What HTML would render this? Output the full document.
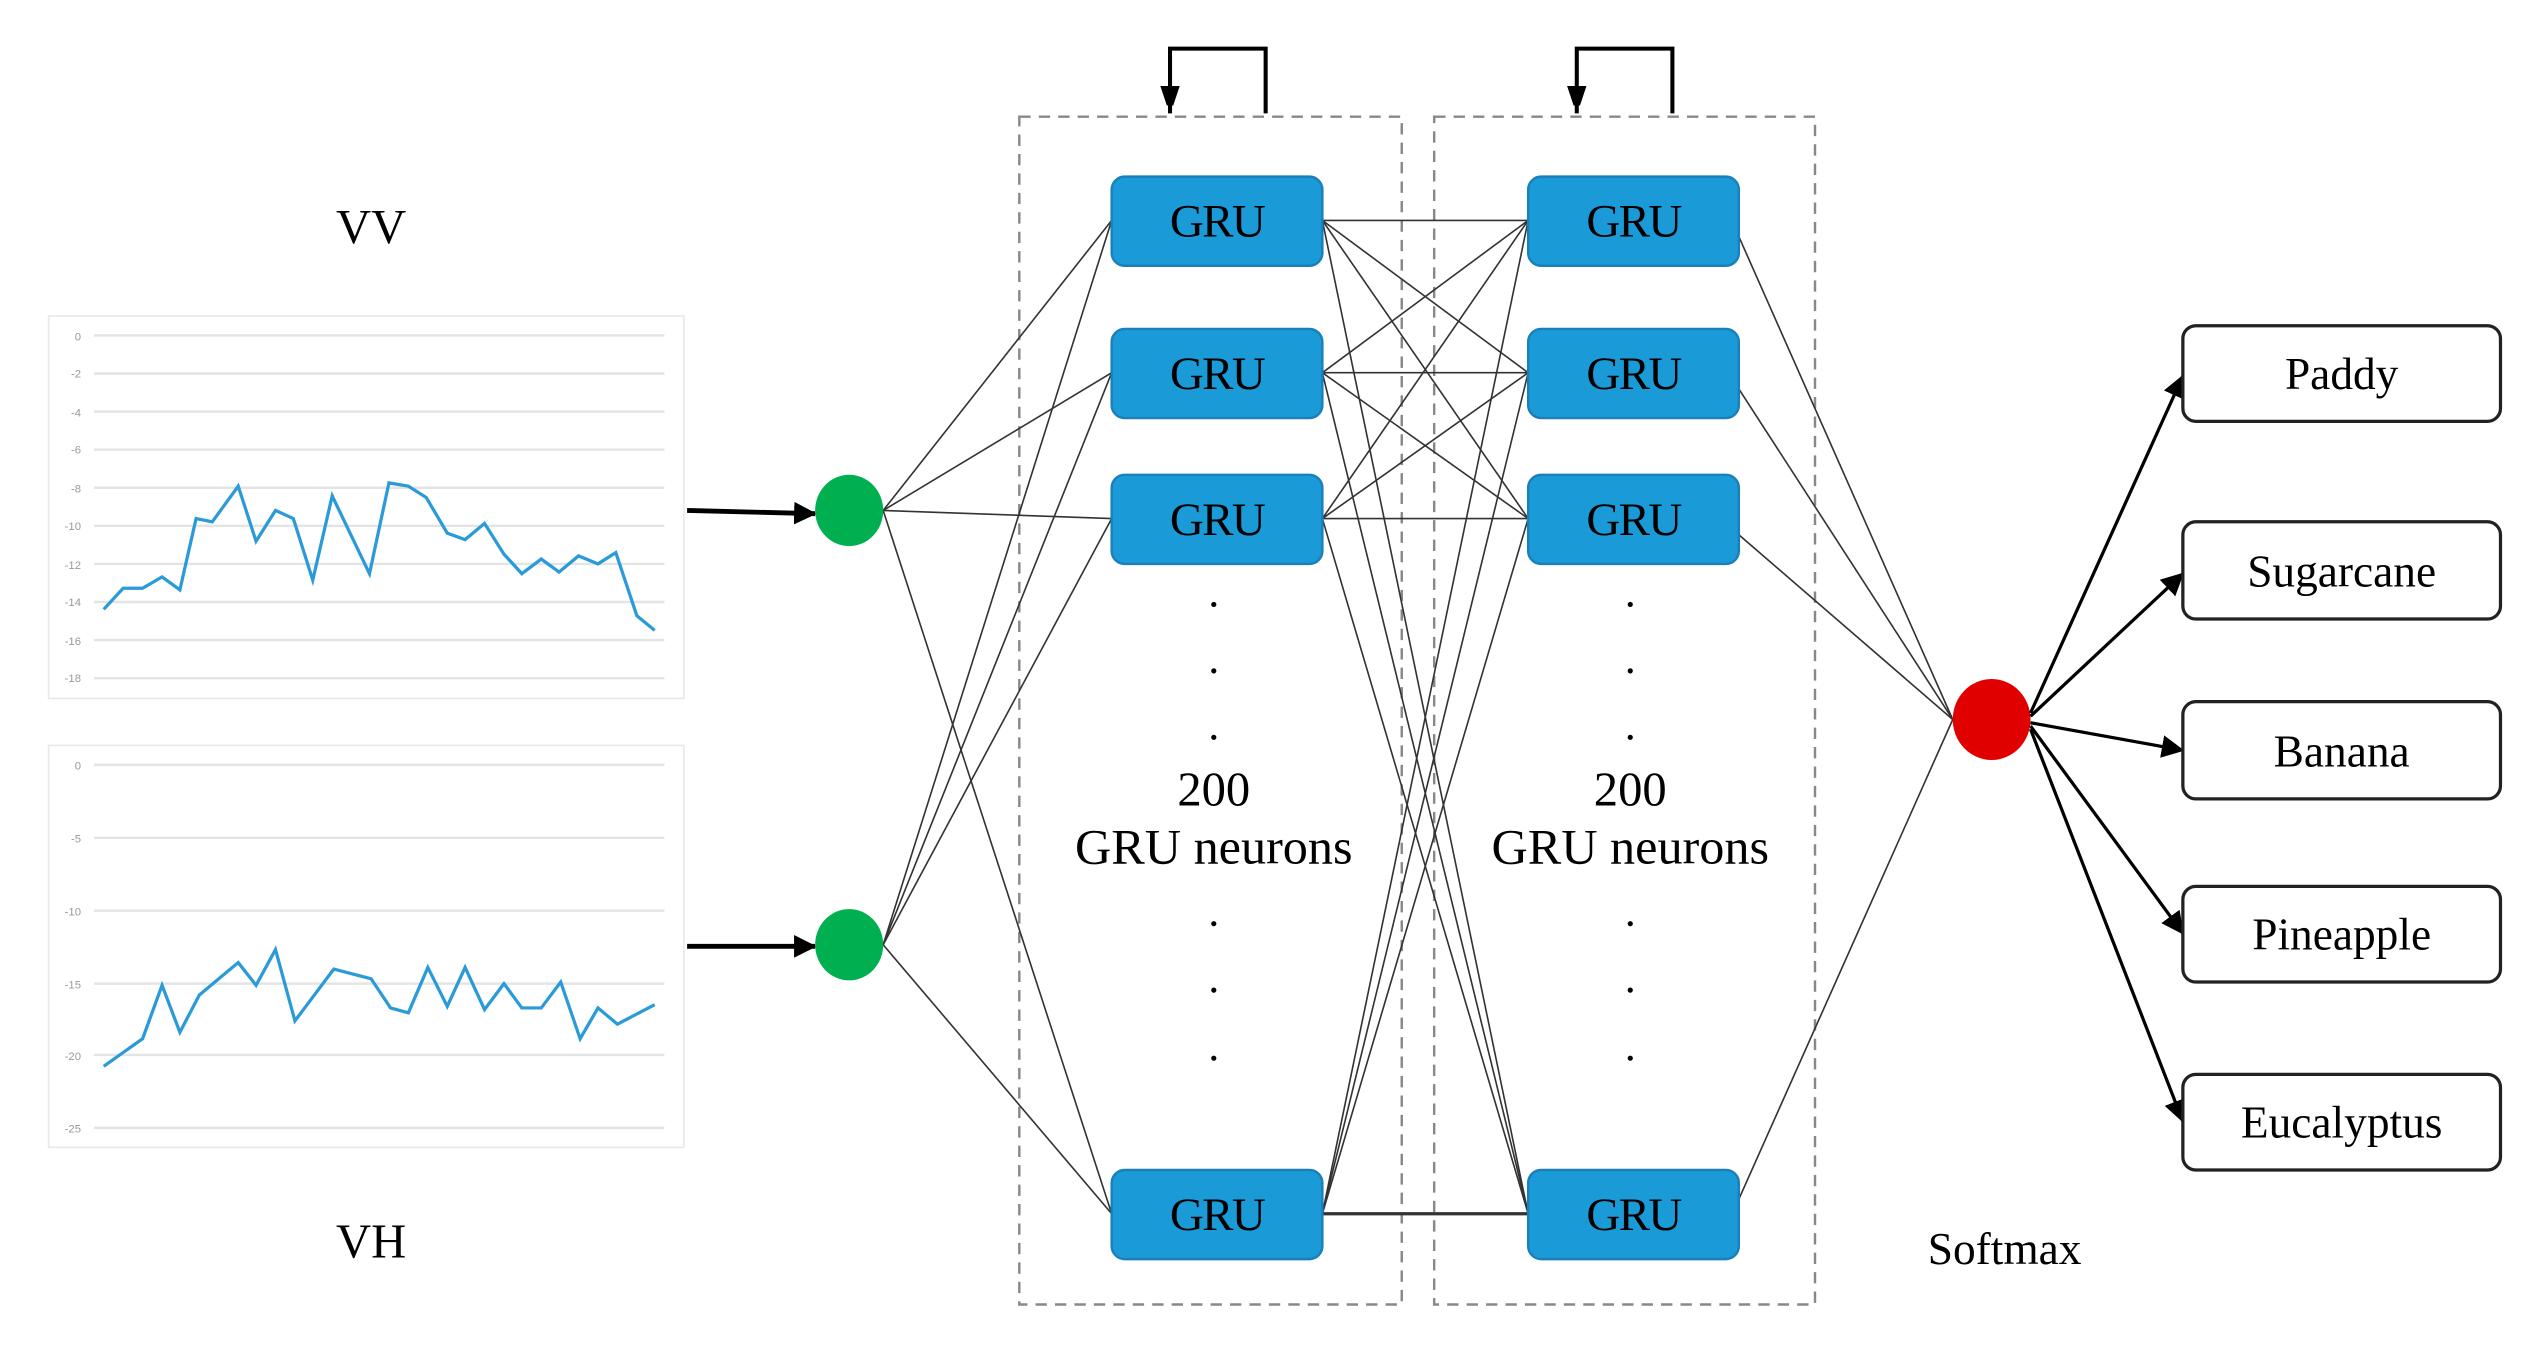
<!DOCTYPE html>
<html><head><meta charset="utf-8"><style>
html,body{margin:0;padding:0;background:#fff;}
svg{display:block;}
</style></head><body>
<svg width="2541" height="1345" viewBox="0 0 1568 830" preserveAspectRatio="none" xmlns="http://www.w3.org/2000/svg" font-family="Liberation Serif, serif">
<defs>
<marker id="ah" markerWidth="12" markerHeight="18" refX="17" refY="6" orient="auto" markerUnits="userSpaceOnUse"><path d="M0,0 L18,6 L0,12 Z" fill="#000"/></marker>
<marker id="ah2" markerWidth="14" markerHeight="14" refX="13" refY="7" orient="auto" markerUnits="userSpaceOnUse"><path d="M0,0 L14,7 L0,14 Z" fill="#000"/></marker>
</defs>

<text x="229" y="150" font-size="30" text-anchor="middle">VV</text>
<text x="229" y="776" font-size="30" text-anchor="middle">VH</text>

<rect x="30" y="195" width="392" height="236" fill="#fff" stroke="#e8e8e8" stroke-width="1"/>
<g stroke="#e4e4e4" stroke-width="1.5">
<line x1="58" y1="207" x2="410" y2="207"/><line x1="58" y1="230.5" x2="410" y2="230.5"/><line x1="58" y1="254" x2="410" y2="254"/><line x1="58" y1="277.5" x2="410" y2="277.5"/><line x1="58" y1="301" x2="410" y2="301"/><line x1="58" y1="324.5" x2="410" y2="324.5"/><line x1="58" y1="348" x2="410" y2="348"/><line x1="58" y1="371.5" x2="410" y2="371.5"/><line x1="58" y1="395" x2="410" y2="395"/><line x1="58" y1="418.5" x2="410" y2="418.5"/>
</g>
<g font-family="Liberation Sans, sans-serif" font-size="7" fill="#999" text-anchor="end">
<text x="50" y="210">0</text><text x="50" y="233">-2</text><text x="50" y="257">-4</text><text x="50" y="280">-6</text><text x="50" y="304">-8</text><text x="50" y="327">-10</text><text x="50" y="351">-12</text><text x="50" y="374">-14</text><text x="50" y="398">-16</text><text x="50" y="421">-18</text>
</g>
<polyline fill="none" stroke="#2a9ad8" stroke-width="2" points="64,376 76,363 88,363 100,356 111,364 121,320 131,322 147,300 158,334 170,315 181,320 193,358 205,306 228,354 240,298 252,300 263,307 276,329 287,333 299,323 311,342 322,354 334,345 345,353 357,343 369,348 380,341 393,380 404,389"/>

<rect x="30" y="460" width="392" height="248" fill="#fff" stroke="#e8e8e8" stroke-width="1"/>
<g stroke="#e4e4e4" stroke-width="1.5">
<line x1="58" y1="472" x2="410" y2="472"/><line x1="58" y1="517" x2="410" y2="517"/><line x1="58" y1="562" x2="410" y2="562"/><line x1="58" y1="607" x2="410" y2="607"/><line x1="58" y1="651" x2="410" y2="651"/><line x1="58" y1="696" x2="410" y2="696"/>
</g>
<g font-family="Liberation Sans, sans-serif" font-size="7" fill="#999" text-anchor="end">
<text x="50" y="475">0</text><text x="50" y="520">-5</text><text x="50" y="565">-10</text><text x="50" y="610">-15</text><text x="50" y="654">-20</text><text x="50" y="699">-25</text>
</g>
<polyline fill="none" stroke="#2a9ad8" stroke-width="2" points="64,658 88,641 100,608 111,637 123,614 135,604 147,594 158,608 170,586 182,630 206,598 229,604 241,622 252,625 264,597 276,621 287,597 299,623 311,607 322,622 334,622 346,606 358,641 369,622 381,632 404,620"/>

<line x1="424" y1="315" x2="503" y2="317" stroke="#000" stroke-width="3" marker-end="url(#ah2)"/>
<line x1="424" y1="584" x2="503" y2="584" stroke="#000" stroke-width="3" marker-end="url(#ah2)"/>

<rect x="629" y="72" width="236" height="733" fill="none" stroke="#888" stroke-width="1.5" stroke-dasharray="7,5"/>
<rect x="885" y="72" width="235" height="733" fill="none" stroke="#888" stroke-width="1.5" stroke-dasharray="7,5"/>

<path d="M781,70 L781,30 L722,30 L722,70" fill="none" stroke="#000" stroke-width="2.5" marker-end="url(#ah)"/>
<path d="M1032,70 L1032,30 L973,30 L973,70" fill="none" stroke="#000" stroke-width="2.5" marker-end="url(#ah)"/>

<g stroke="#333" stroke-width="1" fill="none">
<line x1="545" y1="315" x2="686" y2="136"/><line x1="545" y1="315" x2="686" y2="230"/><line x1="545" y1="315" x2="686" y2="320"/><line x1="545" y1="315" x2="686" y2="749"/>
<line x1="545" y1="583" x2="686" y2="136"/><line x1="545" y1="583" x2="686" y2="230"/><line x1="545" y1="583" x2="686" y2="320"/><line x1="545" y1="583" x2="686" y2="749"/>

<line x1="816" y1="136" x2="943" y2="136"/><line x1="816" y1="136" x2="943" y2="230"/><line x1="816" y1="136" x2="943" y2="320"/><line x1="816" y1="136" x2="943" y2="749"/>
<line x1="816" y1="230" x2="943" y2="136"/><line x1="816" y1="230" x2="943" y2="230"/><line x1="816" y1="230" x2="943" y2="320"/><line x1="816" y1="230" x2="943" y2="749"/>
<line x1="816" y1="320" x2="943" y2="136"/><line x1="816" y1="320" x2="943" y2="230"/><line x1="816" y1="320" x2="943" y2="320"/><line x1="816" y1="320" x2="943" y2="749"/>
<line x1="816" y1="749" x2="943" y2="136"/><line x1="816" y1="749" x2="943" y2="230"/><line x1="816" y1="749" x2="943" y2="320"/><line x1="816" y1="749" x2="943" y2="749" stroke-width="2"/>

<line x1="1073" y1="146" x2="1205" y2="444"/><line x1="1073" y1="240" x2="1205" y2="444"/><line x1="1073" y1="330" x2="1205" y2="444"/><line x1="1073" y1="740" x2="1205" y2="444"/>
</g>

<ellipse cx="524" cy="315" rx="21" ry="22" fill="#00b050"/>
<ellipse cx="524" cy="583" rx="21" ry="22" fill="#00b050"/>
<ellipse cx="1229" cy="444" rx="24" ry="25" fill="#e00000"/>

<g fill="#1b9ad8" stroke="#1b7fba" stroke-width="1.5">
<rect x="686" y="109" width="130" height="55" rx="8"/>
<rect x="686" y="203" width="130" height="55" rx="8"/>
<rect x="686" y="293" width="130" height="55" rx="8"/>
<rect x="686" y="722" width="130" height="55" rx="8"/>
<rect x="943" y="109" width="130" height="55" rx="8"/>
<rect x="943" y="203" width="130" height="55" rx="8"/>
<rect x="943" y="293" width="130" height="55" rx="8"/>
<rect x="943" y="722" width="130" height="55" rx="8"/>
</g>
<g font-size="29" text-anchor="middle" fill="#000" letter-spacing="-1">
<text x="751" y="146">GRU</text><text x="751" y="240">GRU</text><text x="751" y="330">GRU</text><text x="751" y="759">GRU</text>
<text x="1008" y="146">GRU</text><text x="1008" y="240">GRU</text><text x="1008" y="330">GRU</text><text x="1008" y="759">GRU</text>
</g>

<g fill="#000">
<circle cx="749" cy="373" r="1.6"/><circle cx="749" cy="414" r="1.6"/><circle cx="749" cy="455" r="1.6"/>
<circle cx="749" cy="570" r="1.6"/><circle cx="749" cy="611" r="1.6"/><circle cx="749" cy="653" r="1.6"/>
<circle cx="1006" cy="373" r="1.6"/><circle cx="1006" cy="414" r="1.6"/><circle cx="1006" cy="455" r="1.6"/>
<circle cx="1006" cy="570" r="1.6"/><circle cx="1006" cy="611" r="1.6"/><circle cx="1006" cy="653" r="1.6"/>
</g>
<g font-size="31" text-anchor="middle" fill="#000">
<text x="749" y="497" font-size="30">200</text><text x="749" y="533">GRU neurons</text>
<text x="1006" y="497" font-size="30">200</text><text x="1006" y="533">GRU neurons</text>
<text x="1237" y="780" font-size="28">Softmax</text>
</g>

<g stroke="#000" stroke-width="2" marker-end="url(#ah2)">
<line x1="1253" y1="440" x2="1347" y2="232"/>
<line x1="1253" y1="442" x2="1347" y2="354"/>
<line x1="1253" y1="446" x2="1347" y2="463"/>
<line x1="1253" y1="448" x2="1347" y2="576"/>
<line x1="1253" y1="450" x2="1347" y2="692"/>
</g>

<g fill="#fff" stroke="#222" stroke-width="2">
<rect x="1347" y="201" width="196" height="59" rx="8"/>
<rect x="1347" y="322" width="196" height="60" rx="8"/>
<rect x="1347" y="433" width="196" height="60" rx="8"/>
<rect x="1347" y="547" width="196" height="59" rx="8"/>
<rect x="1347" y="663" width="196" height="59" rx="8"/>
</g>
<g font-size="28" text-anchor="middle" fill="#000">
<text x="1445" y="240">Paddy</text>
<text x="1445" y="362">Sugarcane</text>
<text x="1445" y="473">Banana</text>
<text x="1445" y="586">Pineapple</text>
<text x="1445" y="702">Eucalyptus</text>
</g>
</svg>
</body></html>
